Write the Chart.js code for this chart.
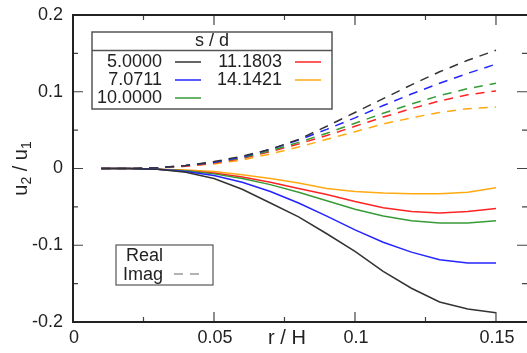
<!DOCTYPE html>
<html lang="en">
<head>
    <meta charset="UTF-8">
    <title>u2 / u1 vs r / H</title>
    <script src="https://cdn.jsdelivr.net/npm/chart.js"></script>
    <style>
        body { margin: 0; background: #ffffff; }
        #grafico { display: block; }
    </style>
</head>
<body>
    <canvas id="grafico" width="527" height="353"></canvas>

    <script>
        // r / H positions
        const rH = [0.01, 0.02, 0.03, 0.04, 0.05, 0.06, 0.07, 0.08, 0.09, 0.10, 0.11, 0.12, 0.13, 0.14, 0.15];

        // s / d values (legend)
        const sdLabels = ['5.0000', '7.0711', '10.0000', '11.1803', '14.1421'];
        const colores = ['#333333', '#2424ff', '#379b37', '#ff2424', '#ffaa11'];

        // Real part
        const real5 = [0, 0, -0.001, -0.005, -0.013, -0.027, -0.045, -0.063, -0.085, -0.108, -0.134, -0.156, -0.174, -0.183, -0.188];
        const real7 = [0, 0, -0.001, -0.004, -0.009, -0.018, -0.030, -0.045, -0.062, -0.080, -0.096, -0.109, -0.119, -0.123, -0.123];
        const real10 = [0, 0, -0.001, -0.003, -0.007, -0.013, -0.021, -0.031, -0.042, -0.053, -0.062, -0.068, -0.071, -0.071, -0.068];
        const real11 = [0, 0, -0.001, -0.003, -0.006, -0.011, -0.018, -0.026, -0.034, -0.043, -0.051, -0.056, -0.058, -0.056, -0.052];
        const real14 = [0, 0, -0.001, -0.002, -0.004, -0.008, -0.013, -0.019, -0.026, -0.030, -0.032, -0.033, -0.033, -0.031, -0.025];

        // Imaginary part
        const imag5 = [0, 0, 0.001, 0.004, 0.009, 0.016, 0.025, 0.038, 0.055, 0.073, 0.091, 0.109, 0.126, 0.141, 0.154];
        const imag7 = [0, 0, 0.001, 0.004, 0.008, 0.015, 0.025, 0.037, 0.051, 0.066, 0.082, 0.097, 0.111, 0.124, 0.136];
        const imag10 = [0, 0, 0.001, 0.004, 0.008, 0.014, 0.023, 0.034, 0.046, 0.059, 0.072, 0.084, 0.095, 0.104, 0.111];
        const imag11 = [0, 0, 0.001, 0.003, 0.007, 0.013, 0.022, 0.032, 0.043, 0.055, 0.067, 0.078, 0.088, 0.096, 0.101];
        const imag14 = [0, 0, 0.001, 0.003, 0.006, 0.011, 0.019, 0.028, 0.038, 0.048, 0.058, 0.066, 0.073, 0.078, 0.080];

        // Ticks
        const xTicks = [0, 0.05, 0.1, 0.15];
        const xTickLabels = ['0', '0.05', '0.1', '0.15'];
        const xMinor = [0.025, 0.075, 0.125];
        const yTicks = [-0.2, -0.1, 0, 0.1, 0.2];
        const yTickLabels = ['-0.2', '-0.1', '0', '0.1', '0.2'];
        const yMinor = [-0.15, -0.05, 0.05, 0.15];

        const partLabels = ['Real', 'Imag'];

        const reales = [real5, real7, real10, real11, real14];
        const imags = [imag5, imag7, imag10, imag11, imag14];

        const fuente = '"Liberation Sans", Arial, sans-serif';
        const dash = [9, 7];

        function puntos(vals) {
            return rH.map((r, i) => ({ x: r, y: vals[i] }));
        }

        const datasets = [];
        reales.forEach((vals, i) => {
            datasets.push({
                label: sdLabels[i] + ' Real',
                data: puntos(vals),
                borderColor: colores[i],
                borderWidth: 1.5,
                pointRadius: 0,
                tension: 0,
                fill: false
            });
        });
        imags.forEach((vals, i) => {
            datasets.push({
                label: sdLabels[i] + ' Imag',
                data: puntos(vals),
                borderColor: colores[i],
                borderWidth: 1.5,
                borderDash: dash,
                pointRadius: 0,
                tension: 0,
                fill: false
            });
        });

        // Marco, ticks, textos y leyendas
        const marco = {
            id: 'marco',
            afterDatasetsDraw(chart) {
                const ctx = chart.ctx;
                const a = chart.chartArea;
                const sx = chart.scales.x;
                const sy = chart.scales.y;
                ctx.save();

                // ticks
                ctx.strokeStyle = '#444';
                ctx.lineWidth = 1.2;
                const tickX = (v, len) => {
                    const px = sx.getPixelForValue(v);
                    ctx.beginPath();
                    ctx.moveTo(px, a.bottom); ctx.lineTo(px, a.bottom - len);
                    ctx.moveTo(px, a.top); ctx.lineTo(px, a.top + len);
                    ctx.stroke();
                };
                const tickY = (v, len) => {
                    const py = sy.getPixelForValue(v);
                    ctx.beginPath();
                    ctx.moveTo(a.left, py); ctx.lineTo(a.left + len, py);
                    ctx.moveTo(a.right, py); ctx.lineTo(a.right - len, py);
                    ctx.stroke();
                };
                xTicks.forEach(v => tickX(v, 10));
                xMinor.forEach(v => tickX(v, 5));
                yTicks.forEach(v => tickY(v, 10));
                yMinor.forEach(v => tickY(v, 5));

                // axes
                ctx.strokeStyle = '#222';
                ctx.lineWidth = 2;
                ctx.beginPath();
                ctx.moveTo(a.right, a.top);
                ctx.lineTo(a.left, a.top);
                ctx.lineTo(a.left, a.bottom);
                ctx.lineTo(a.right, a.bottom);
                ctx.stroke();

                // tick labels
                ctx.fillStyle = '#222';
                ctx.font = '18px ' + fuente;
                ctx.textAlign = 'center';
                ctx.textBaseline = 'middle';
                xTicks.forEach((v, i) => {
                    ctx.fillText(xTickLabels[i], sx.getPixelForValue(v) + 1, a.bottom + 16);
                });
                ctx.textAlign = 'right';
                yTicks.forEach((v, i) => {
                    ctx.fillText(yTickLabels[i], a.left - 10, sy.getPixelForValue(v));
                });

                // axis titles
                ctx.textAlign = 'center';
                ctx.font = '20px ' + fuente;
                ctx.fillText('r / H', 287, a.bottom + 16);

                ctx.save();
                ctx.translate(21, sy.getPixelForValue(0));
                ctx.rotate(-Math.PI / 2);
                ctx.textAlign = 'left';
                ctx.textBaseline = 'middle';
                const partes = [['u', 0, 20], ['2', 6, 14], [' / u', 0, 20], ['1', 6, 14]];
                let ancho = 0;
                partes.forEach(p => { ctx.font = p[2] + 'px ' + fuente; ancho += ctx.measureText(p[0]).width; });
                let cx = -ancho / 2;
                partes.forEach(p => {
                    ctx.font = p[2] + 'px ' + fuente;
                    ctx.fillText(p[0], cx, p[1]);
                    cx += ctx.measureText(p[0]).width;
                });
                ctx.restore();

                // leyenda s / d
                ctx.fillStyle = '#fff';
                ctx.fillRect(92, 32, 240, 77);
                ctx.strokeStyle = '#555';
                ctx.lineWidth = 1.5;
                ctx.strokeRect(92, 32, 240, 77);
                ctx.beginPath();
                ctx.moveTo(92, 50.5); ctx.lineTo(332, 50.5);
                ctx.stroke();
                ctx.fillStyle = '#222';
                ctx.font = '18px ' + fuente;
                ctx.textAlign = 'center';
                ctx.fillText('s / d', 212, 41);
                ctx.textAlign = 'right';
                const filas = [62, 80, 98];
                sdLabels.forEach((lab, i) => {
                    const col = i < 3 ? 0 : 1;
                    const fila = i < 3 ? i : i - 3;
                    const xt = col === 0 ? 162 : 282;
                    const y = filas[fila];
                    ctx.fillStyle = '#222';
                    ctx.fillText(lab, xt, y);
                    ctx.strokeStyle = colores[i];
                    ctx.lineWidth = 1.5;
                    ctx.beginPath();
                    ctx.moveTo(xt + 13, y); ctx.lineTo(xt + 39, y);
                    ctx.stroke();
                });

                // leyenda Real / Imag
                ctx.fillStyle = '#fff';
                ctx.fillRect(116, 245, 97, 40);
                ctx.strokeStyle = '#555';
                ctx.lineWidth = 1.2;
                ctx.strokeRect(116, 245, 97, 40);
                ctx.fillStyle = '#222';
                ctx.textAlign = 'right';
                ctx.fillText(partLabels[0], 163, 256);
                ctx.fillText(partLabels[1], 163, 275);
                ctx.strokeStyle = '#666';
                ctx.setLineDash(dash);
                ctx.beginPath();
                ctx.moveTo(174, 274); ctx.lineTo(201, 274);
                ctx.stroke();
                ctx.setLineDash([]);

                ctx.restore();
            }
        };

        const grafico = new Chart(document.getElementById('grafico'), {
            type: 'line',
            data: { datasets: datasets },
            options: {
                responsive: false,
                animation: false,
                devicePixelRatio: 1,
                layout: { padding: { left: 73, top: 15, right: 0, bottom: 31 } },
                scales: {
                    x: { type: 'linear', min: 0, max: 0.161, display: false },
                    y: { type: 'linear', min: -0.2, max: 0.2, display: false }
                },
                plugins: {
                    legend: { display: false },
                    tooltip: { enabled: false }
                }
            },
            plugins: [marco]
        });
    </script>
</body>
</html>
